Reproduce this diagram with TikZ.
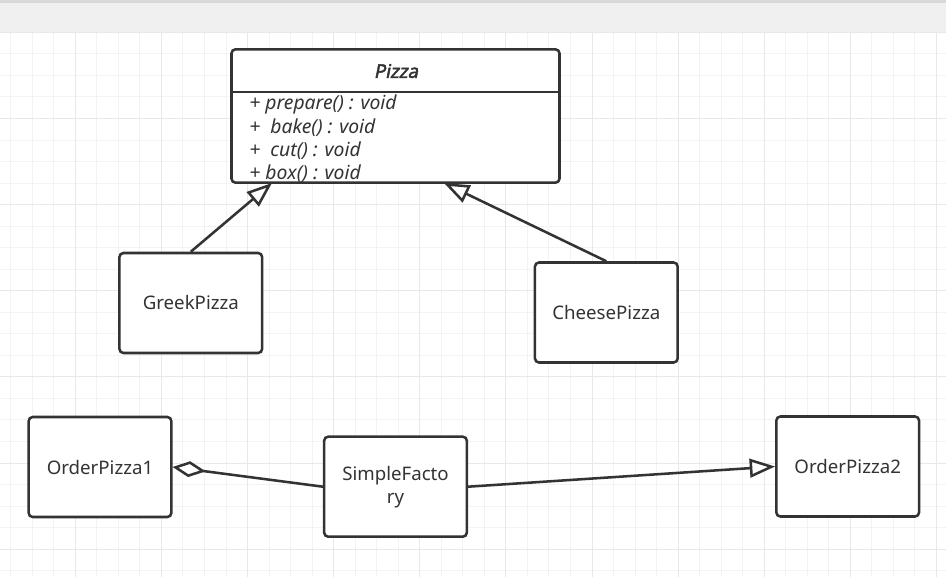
\documentclass[tikz,border=0pt]{standalone}
\usepackage{fontspec}
\setmainfont{Noto Sans}
\newfontfamily\titlefont{Noto Sans}[FakeSlant=0.2, FakeBold=2.5]
\usetikzlibrary{arrows.meta}

\definecolor{linegray}{HTML}{333333}
\definecolor{minorgrid}{HTML}{F3F3F3}
\definecolor{majorgrid}{HTML}{E8E8E8}
\definecolor{topbar}{HTML}{F0F0F0}
\definecolor{topedge}{HTML}{D8D8D8}

\newcommand{\boxfont}{\fontsize{14}{17.25}\selectfont}
\newcommand{\methfont}{\fontsize{14.5}{17.25}\selectfont}

\tikzset{
    umlbox/.style={draw=linegray, line width=1.9pt, rounded corners=3pt, fill=white, text=linegray, font=\boxfont, minimum width=107pt, minimum height=75pt, align=center, inner sep=2pt},
    methtext/.style={text=linegray, font=\methfont\itshape, inner sep=0pt, anchor=west},
    inherit/.style={draw=linegray, line width=1.9pt, -{Triangle[open, fill=white, length=19pt, width=14pt]}},
    aggreg/.style={draw=linegray, line width=1.9pt, -{Diamond[open, fill=white, length=25pt, width=12pt]}},
}

\begin{document}
\begin{tikzpicture}[x=0.75pt, y=-0.75pt]

    \def\cell{21.53}
    \def\major{86.12}

    \useasboundingbox (0,0) rectangle (946,577);
    \fill[white] (0,0) rectangle (946,577);
    \fill[topbar] (0,0) rectangle (946,32);
    \fill[topedge] (0,0) rectangle (946,3);

    % grid
    \foreach \i in {0,...,43} \draw[minorgrid, line width=0.75pt] ({10.7+\cell*\i},32) -- ({10.7+\cell*\i},577);
    \foreach \j in {0,...,25} \draw[minorgrid, line width=0.75pt] (0,{32.4+\cell*\j}) -- (946,{32.4+\cell*\j});
    \foreach \i in {0,...,10} \draw[majorgrid, line width=0.75pt] ({75.3+\major*\i},32) -- ({75.3+\major*\i},577);
    \foreach \j in {0,...,6} \draw[majorgrid, line width=0.75pt] (0,{32.4+\major*\j}) -- (946,{32.4+\major*\j});

    % Pizza class
    \node[umlbox, minimum width=246pt, minimum height=100pt] (pizza) at (395.5,116) {};
    \draw[linegray, line width=1.9pt] (pizza.west |- 0,92) -- (pizza.east |- 0,92);
    \node[text=linegray, font=\titlefont\boxfont, inner sep=0pt] (pizzatitle) at (396,71) {Pizza};
    \foreach \txt [count=\i] in {{+ prepare() : void}, {+\ \ bake() : void}, {+\ \ cut() : void}, {+ box() : void}}
        \node[methtext] (meth\i) at (249,{81.5+23*\i}) {\txt};

    \node[umlbox] (greek) at (190.8,303) {GreekPizza};
    \node[umlbox] (cheese) at (606.3,312.5) {CheesePizza};
    \node[umlbox] (order1) at (100,467) {OrderPizza1};
    \node[umlbox] (factory) at (395.5,486.7) {SimpleFacto\\ry};
    \node[umlbox] (order2) at (847.7,466.5) {OrderPizza2};

    \coordinate (pizzaL) at (272,183);
    \coordinate (pizzaR) at (444,183);

    \draw[inherit] (greek.north) -- (pizzaL);
    \draw[inherit] (cheese.north) -- (pizzaR);
    \draw[aggreg] (factory.west) -- (order1.east);
    \draw[inherit] (factory.east) -- (order2.west);

\end{tikzpicture}
\end{document}
